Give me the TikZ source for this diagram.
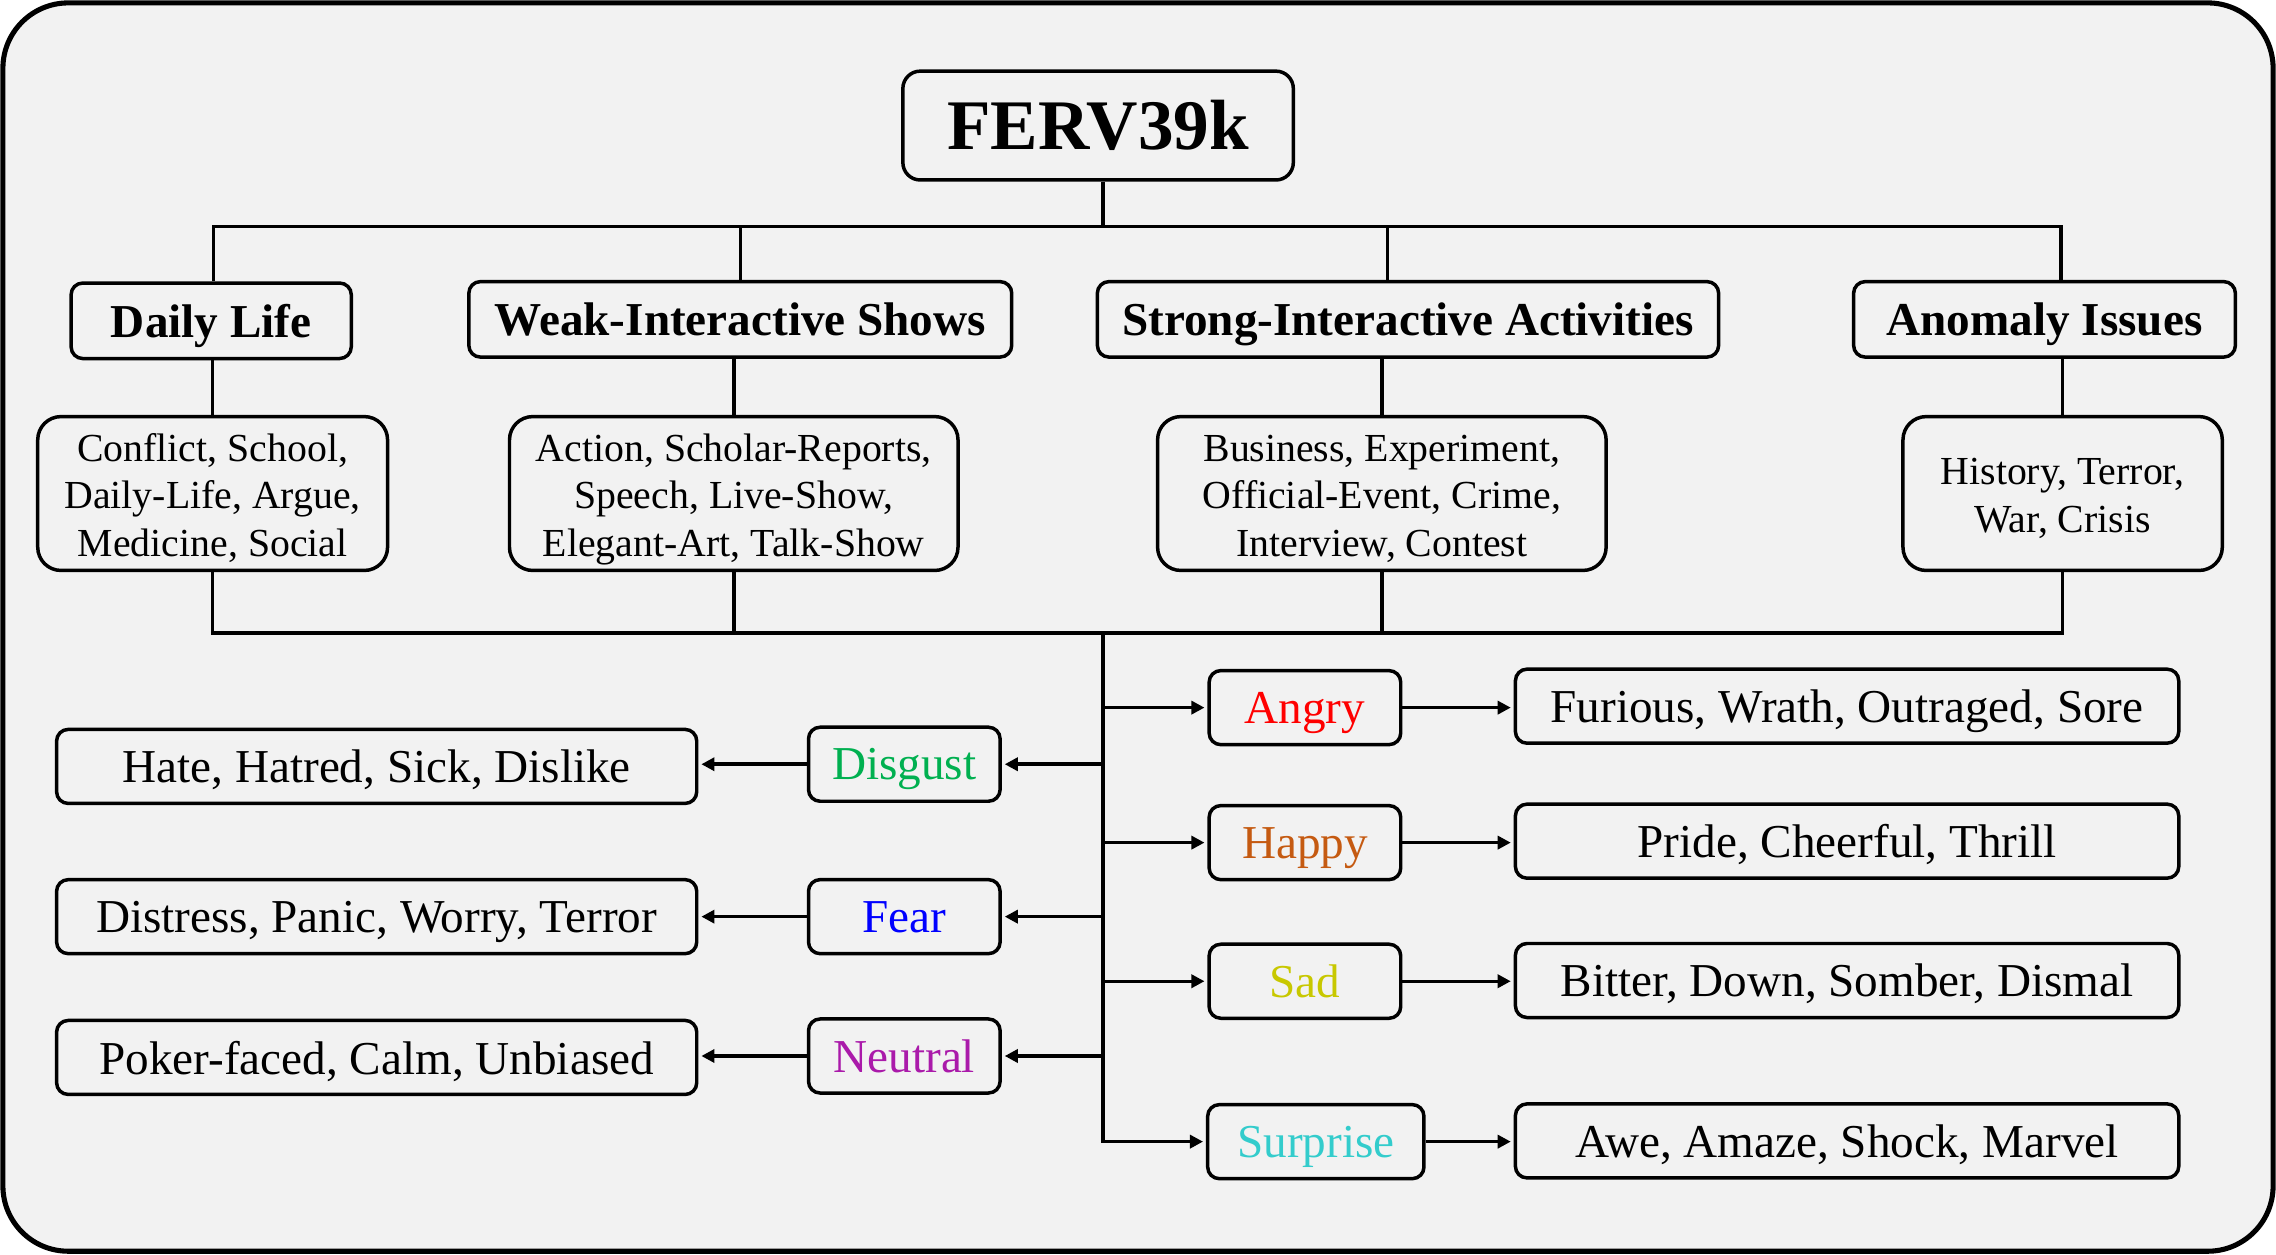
\documentclass[tikz,border=0pt]{standalone}
\usepackage{fontspec}
\setmainfont{Liberation Serif}
\usetikzlibrary{arrows.meta}
\definecolor{bgc}{HTML}{F2F2F2}
\definecolor{cangry}{HTML}{FF0000}
\definecolor{chappy}{HTML}{C55A11}
\definecolor{csad}{HTML}{C8C800}
\definecolor{csurprise}{HTML}{33CCCC}
\definecolor{cdisgust}{HTML}{00B050}
\definecolor{cfear}{HTML}{0000FF}
\definecolor{cneutral}{HTML}{AA1AAA}
\newcommand{\lowerby}[2]{\raisebox{-#1}[\height][\depth]{#2}}
\newcommand{\sublines}[1]{\lowerby{4pt}{\begin{tabular}{@{}c@{}}#1\end{tabular}}}
\newcommand{\oneline}[1]{\lowerby{3.5pt}{\vphantom{Ay}#1}}
\tikzset{
  box/.style={draw, line width=2.4pt, fill=bgc, rounded corners=8pt, inner sep=0pt, align=center},
  rootbox/.style={box, rounded corners=12pt, minimum width=269pt, minimum height=75pt,
    font=\fontsize{49}{56}\selectfont\bfseries},
  catbox/.style={box, minimum height=52pt, font=\fontsize{32.5}{39}\selectfont\bfseries},
  subbox/.style={box, rounded corners=16pt, minimum height=106pt,
    font=\fontsize{27.4}{33}\selectfont},
  emobox/.style={box, minimum height=51pt, font=\fontsize{32.5}{39}\selectfont},
  wordbox/.style={box, minimum height=51pt, font=\fontsize{32.5}{39}\selectfont},
  conn/.style={line width=2.4pt},
  arr/.style={line width=2.4pt, -{Triangle[length=9pt,width=9pt]}, shorten >=2pt},
}
\begin{document}
\begin{tikzpicture}[x=1pt,y=-1pt]
\useasboundingbox (0,0) rectangle (1568,864);
\draw[line width=3.5pt, fill=bgc, rounded corners=45pt] (2,2) rectangle (1566,862);

% root
\node[rootbox] (root) at (756.5,86.5) {FERV39k};

% categories
\node[catbox, minimum width=193pt] (daily) at (145.5,221) {\oneline{Daily Life}};
\node[catbox, minimum width=374pt] (weak) at (510,220) {\oneline{Weak-Interactive Shows}};
\node[catbox, minimum width=428pt] (strong) at (970,220) {\oneline{Strong-Interactive Activities}};
\node[catbox, minimum width=263pt] (anomaly) at (1408.5,220) {\oneline{Anomaly Issues}};

% sub boxes
\node[subbox, minimum width=241pt] (dsub) at (146.5,340) {\sublines{Conflict, School,\\Daily-Life, Argue,\\Medicine, Social}};
\node[subbox, minimum width=309pt] (wsub) at (505.5,340) {\sublines{Action, Scholar-Reports,\\Speech, Live-Show,\\Elegant-Art, Talk-Show}};
\node[subbox, minimum width=309pt] (ssub) at (952,340) {\sublines{Business, Experiment,\\Official-Event, Crime,\\Interview, Contest}};
\node[subbox, minimum width=220pt] (asub) at (1421,340) {\sublines{History, Terror,\\War, Crisis}};

% top bus
\coordinate (tb1) at (147,156);
\coordinate (tb2) at (510,156);
\coordinate (topbus) at (760,156);
\coordinate (tb3) at (956,156);
\coordinate (tb4) at (1420,156);
\draw[conn] (root.south -| topbus) -- (topbus);
\draw[conn] (tb1 |- daily.north) -- (tb1) -- (tb4) -- (tb4 |- anomaly.north);
\draw[conn] (tb2) -- (tb2 |- weak.north);
\draw[conn] (tb3) -- (tb3 |- strong.north);

% category to sub
\draw[conn] (dsub.north) -- (dsub.north |- daily.south);
\draw[conn] (wsub.north) -- (wsub.north |- weak.south);
\draw[conn] (ssub.north) -- (ssub.north |- strong.south);
\draw[conn] (asub.north) -- (asub.north |- anomaly.south);

% bottom bus
\coordinate (bb1) at (147,436);
\coordinate (trunk) at (760,436);
\coordinate (bb4) at (1421,436);
\draw[conn] (dsub.south) -- (dsub.south |- bb1) -- (bb4) -- (asub.south);
\draw[conn] (wsub.south) -- (wsub.south |- bb1);
\draw[conn] (ssub.south) -- (ssub.south |- bb1);

% right emotions
\node[emobox, minimum width=132pt, text=cangry] (angry) at (899,487.5) {\oneline{Angry}};
\node[emobox, minimum width=132pt, text=chappy] (happy) at (899,580.5) {\oneline{Happy}};
\node[emobox, minimum width=132pt, text=csad] (sad) at (899,676) {\oneline{Sad}};
\node[emobox, minimum width=149pt, text=csurprise] (surprise) at (906.5,786.5) {\oneline{Surprise}};

\node[wordbox, minimum width=457pt] (angw) at (1272.5,486.5) {\oneline{Furious, Wrath, Outraged, Sore}};
\node[wordbox, minimum width=457pt] (hapw) at (1272.5,579.5) {\oneline{Pride, Cheerful, Thrill}};
\node[wordbox, minimum width=457pt] (sadw) at (1272.5,675.5) {\oneline{Bitter, Down, Somber, Dismal}};
\node[wordbox, minimum width=457pt] (surw) at (1272.5,786) {\oneline{Awe, Amaze, Shock, Marvel}};

% left emotions
\node[emobox, minimum width=132pt, text=cdisgust] (disgust) at (623,526.5) {\oneline{Disgust}};
\node[emobox, minimum width=132pt, text=cfear] (fear) at (623,631.5) {\oneline{Fear}};
\node[emobox, minimum width=132pt, text=cneutral] (neutral) at (623,727.5) {\oneline{Neutral}};

\node[wordbox, minimum width=441pt] (disw) at (259.5,528) {\oneline{Hate, Hatred, Sick, Dislike}};
\node[wordbox, minimum width=441pt] (fearw) at (259.5,631.5) {\oneline{Distress, Panic, Worry, Terror}};
\node[wordbox, minimum width=441pt] (neuw) at (259.5,728.5) {\oneline{Poker-faced, Calm, Unbiased}};

% trunk and branches
\draw[arr] (trunk) -- (trunk |- surprise.west) -- (surprise.west);
\draw[arr] (trunk |- angry.west) -- (angry.west);
\draw[arr] (trunk |- happy.west) -- (happy.west);
\draw[arr] (trunk |- sad.west) -- (sad.west);
\draw[arr] (trunk |- disgust.east) -- (disgust.east);
\draw[arr] (trunk |- fear.east) -- (fear.east);
\draw[arr] (trunk |- neutral.east) -- (neutral.east);

% emotion to words
\draw[arr] (angry.east) -- (angry.east -| angw.west);
\draw[arr] (happy.east) -- (happy.east -| hapw.west);
\draw[arr] (sad.east) -- (sad.east -| sadw.west);
\draw[arr] (surprise.east) -- (surprise.east -| surw.west);
\draw[arr] (disgust.west) -- (disgust.west -| disw.east);
\draw[arr] (fear.west) -- (fear.west -| fearw.east);
\draw[arr] (neutral.west) -- (neutral.west -| neuw.east);
\end{tikzpicture}
\end{document}
